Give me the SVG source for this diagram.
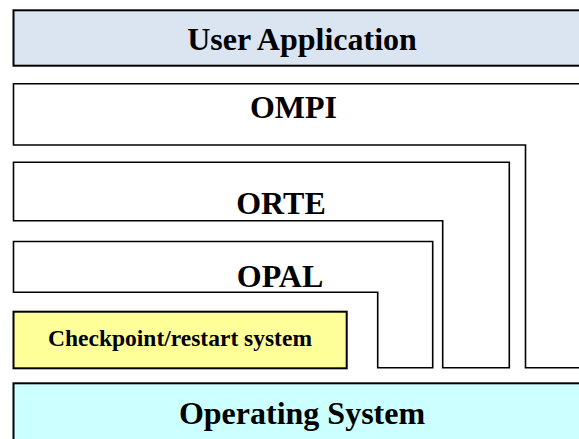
<svg xmlns="http://www.w3.org/2000/svg" width="579" height="439" viewBox="0 0 579 439">
  <style>
    .box { stroke: #000; stroke-width: 2; }
    .layer { fill: none; stroke: #000; stroke-width: 1.6; stroke-linejoin: miter; }
    .lbl { font-family: "Liberation Serif", "Times New Roman", serif; font-weight: bold; fill: #000; text-anchor: middle; }
    .big { font-size: 32px; }
    .small { font-size: 23.5px; }
  </style>
  <rect x="0" y="0" width="579" height="439" fill="#fff"/>

  <!-- application on top -->
  <g id="user-application">
    <rect class="box" x="13.5" y="10.3" width="580" height="55.4" fill="#dbe5f1"/>
    <text class="lbl big" x="302" y="50">User Application</text>
  </g>

  <!-- nested layers, each reaching down to the OS -->
  <g id="ompi">
    <path class="layer" d="M590 83.7 H13.5 V145 H525.5 V367.7 H590"/>
    <text class="lbl big" x="293.5" y="118">OMPI</text>
  </g>

  <g id="orte">
    <path class="layer" d="M13.5 162.3 H509.3 V367.7 H442.7 V220.7 H13.5 Z"/>
    <text class="lbl big" x="281" y="214.3">ORTE</text>
  </g>

  <g id="opal">
    <path class="layer" d="M13.5 241.5 H432.7 V367.7 H377.7 V292.3 H13.5 Z"/>
    <text class="lbl big" x="280" y="286.7">OPAL</text>
  </g>

  <g id="checkpoint-restart">
    <rect class="box" x="13.5" y="311.7" width="333.2" height="56.6" fill="#ffff99"/>
    <text class="lbl small" x="180" y="345.5">Checkpoint/restart system</text>
  </g>

  <g id="operating-system">
    <rect class="box" x="13.5" y="383.3" width="580" height="70" fill="#ccffff"/>
    <text class="lbl big" x="302" y="424">Operating System</text>
  </g>

  <g id="connectors"/>
</svg>
